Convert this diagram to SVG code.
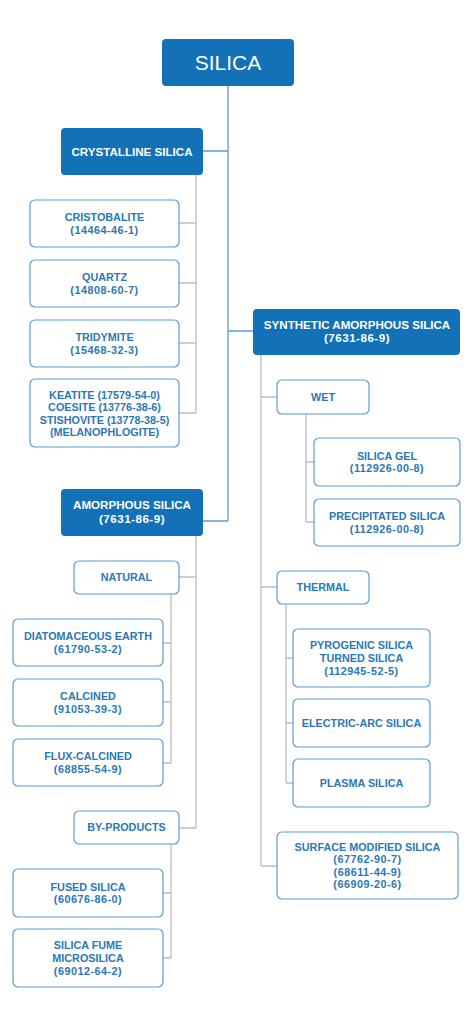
<svg xmlns="http://www.w3.org/2000/svg" width="474" height="1027" viewBox="0 0 474 1027">
<style>
.hdr{fill:#1271b7;}
.box{fill:#ffffff;stroke:#5b9bd5;stroke-width:1.2;}
.ht{fill:#ffffff;font-family:"Liberation Sans",Arial,sans-serif;font-weight:bold;font-size:11.6px;text-anchor:middle;}
.t{fill:#2a78b8;font-family:"Liberation Sans",Arial,sans-serif;font-weight:bold;font-size:10.8px;text-anchor:middle;}
.n{letter-spacing:0.5px;}
.title{fill:#ffffff;font-family:"Liberation Sans",Arial,sans-serif;font-size:21px;text-anchor:middle;}
.main{fill:none;stroke:#5b9bd5;stroke-width:1.3;}
.sub{fill:none;stroke:#bdbdbd;stroke-width:1.3;}
</style>
<rect width="474" height="1027" fill="#ffffff"/>
<g id="connectors">
<path class="main" d="M228 86 V521 M203 151 H228 M228 331 H253 M203 521 H228"/>
<path class="sub" d="M196 175 V413 M179 223 H196 M179 283 H196 M179 343 H196 M179 413 H196"/>
<path class="sub" d="M261 355 V866 M261 397 H277 M261 587 H277 M261 866 H277"/>
<path class="sub" d="M306 414 V522 M306 462 H314 M306 522 H314"/>
<path class="sub" d="M286 604 V783 M286 658 H293 M286 723 H293 M286 783 H293"/>
<path class="sub" d="M196 536 V828 M179 577 H196 M179 828 H196"/>
<path class="sub" d="M171 594 V763 M163 643 H171 M163 702 H171 M163 763 H171"/>
<path class="sub" d="M171 844 V958 M163 893 H171 M163 958 H171"/>
</g>
<g id="silica">
<rect class="hdr" x="162" y="39" width="132" height="47" rx="4"/>
<text class="title" x="228" y="70">SILICA</text>
</g>
<g id="crystalline">
<rect class="hdr" x="61" y="128" width="142" height="47" rx="4"/>
<text class="ht" x="132" y="155.5">CRYSTALLINE SILICA</text>
</g>
<g id="cristobalite">
<rect class="box" x="30" y="200" width="149" height="47" rx="5"/>
<text class="t" x="104.5" y="221">CRISTOBALITE</text>
<text class="t n" x="104.5" y="233.6">(14464-46-1)</text>
</g>
<g id="quartz">
<rect class="box" x="30" y="260" width="149" height="47" rx="5"/>
<text class="t" x="104.5" y="281">QUARTZ</text>
<text class="t n" x="104.5" y="293.6">(14808-60-7)</text>
</g>
<g id="tridymite">
<rect class="box" x="30" y="320" width="149" height="47" rx="5"/>
<text class="t" x="104.5" y="341">TRIDYMITE</text>
<text class="t n" x="104.5" y="353.6">(15468-32-3)</text>
</g>
<g id="keatite">
<rect class="box" x="30" y="379" width="149" height="68" rx="5"/>
<text class="t" x="104.5" y="398.5">KEATITE (17579-54-0)</text>
<text class="t" x="104.5" y="411.1">COESITE (13776-38-6)</text>
<text class="t" x="104.5" y="423.7">STISHOVITE (13778-38-5)</text>
<text class="t" x="104.5" y="436.3">(MELANOPHLOGITE)</text>
</g>
<g id="synthetic">
<rect class="hdr" x="253" y="309" width="207" height="46" rx="4"/>
<text class="ht" x="357" y="328.8">SYNTHETIC AMORPHOUS SILICA</text>
<text class="ht n" x="357" y="342.3">(7631-86-9)</text>
</g>
<g id="wet">
<rect class="box" x="277" y="380" width="92" height="34" rx="5"/>
<text class="t" x="323" y="400.8">WET</text>
</g>
<g id="silica-gel">
<rect class="box" x="314" y="438" width="146" height="48" rx="5"/>
<text class="t" x="387" y="459.6">SILICA GEL</text>
<text class="t n" x="387" y="472.2">(112926-00-8)</text>
</g>
<g id="precipitated">
<rect class="box" x="314" y="499" width="146" height="47" rx="5"/>
<text class="t" x="387" y="520">PRECIPITATED SILICA</text>
<text class="t n" x="387" y="532.6">(112926-00-8)</text>
</g>
<g id="amorphous">
<rect class="hdr" x="61" y="489" width="142" height="47" rx="4"/>
<text class="ht" x="132" y="509">AMORPHOUS SILICA</text>
<text class="ht n" x="132" y="522.8">(7631-86-9)</text>
</g>
<g id="natural">
<rect class="box" x="74" y="561" width="105" height="33" rx="5"/>
<text class="t" x="126.5" y="581.4">NATURAL</text>
</g>
<g id="diatomaceous">
<rect class="box" x="13" y="619" width="150" height="47" rx="5"/>
<text class="t" x="88" y="640.2">DIATOMACEOUS EARTH</text>
<text class="t n" x="88" y="652.8">(61790-53-2)</text>
</g>
<g id="calcined">
<rect class="box" x="13" y="679" width="150" height="47" rx="5"/>
<text class="t" x="88" y="700.2">CALCINED</text>
<text class="t n" x="88" y="712.8">(91053-39-3)</text>
</g>
<g id="flux-calcined">
<rect class="box" x="13" y="739" width="150" height="47" rx="5"/>
<text class="t" x="88" y="760.2">FLUX-CALCINED</text>
<text class="t n" x="88" y="772.8">(68855-54-9)</text>
</g>
<g id="by-products">
<rect class="box" x="74" y="811" width="105" height="33" rx="5"/>
<text class="t" x="126.5" y="831.4">BY-PRODUCTS</text>
</g>
<g id="fused">
<rect class="box" x="13" y="869" width="150" height="48" rx="5"/>
<text class="t" x="88" y="890.6">FUSED SILICA</text>
<text class="t n" x="88" y="903.2">(60676-86-0)</text>
</g>
<g id="silica-fume">
<rect class="box" x="13" y="929" width="150" height="58" rx="5"/>
<text class="t" x="88" y="949.3">SILICA FUME</text>
<text class="t" x="88" y="961.9">MICROSILICA</text>
<text class="t n" x="88" y="974.5">(69012-64-2)</text>
</g>
<g id="thermal">
<rect class="box" x="277" y="571" width="92" height="33" rx="5"/>
<text class="t" x="323" y="591.4">THERMAL</text>
</g>
<g id="pyrogenic">
<rect class="box" x="293" y="629" width="137" height="58" rx="5"/>
<text class="t" x="361.5" y="649.3">PYROGENIC SILICA</text>
<text class="t" x="361.5" y="661.9">TURNED SILICA</text>
<text class="t n" x="361.5" y="674.5">(112945-52-5)</text>
</g>
<g id="electric-arc">
<rect class="box" x="293" y="699" width="137" height="48" rx="5"/>
<text class="t" x="361.5" y="726.9">ELECTRIC-ARC SILICA</text>
</g>
<g id="plasma">
<rect class="box" x="293" y="759" width="137" height="48" rx="5"/>
<text class="t" x="361.5" y="786.9">PLASMA SILICA</text>
</g>
<g id="surface-modified">
<rect class="box" x="277" y="832" width="181" height="67" rx="5"/>
<text class="t" x="367.5" y="850.6">SURFACE MODIFIED SILICA</text>
<text class="t n" x="367.5" y="863.2">(67762-90-7)</text>
<text class="t n" x="367.5" y="875.8">(68611-44-9)</text>
<text class="t n" x="367.5" y="888.4">(66909-20-6)</text>
</g>
</svg>
